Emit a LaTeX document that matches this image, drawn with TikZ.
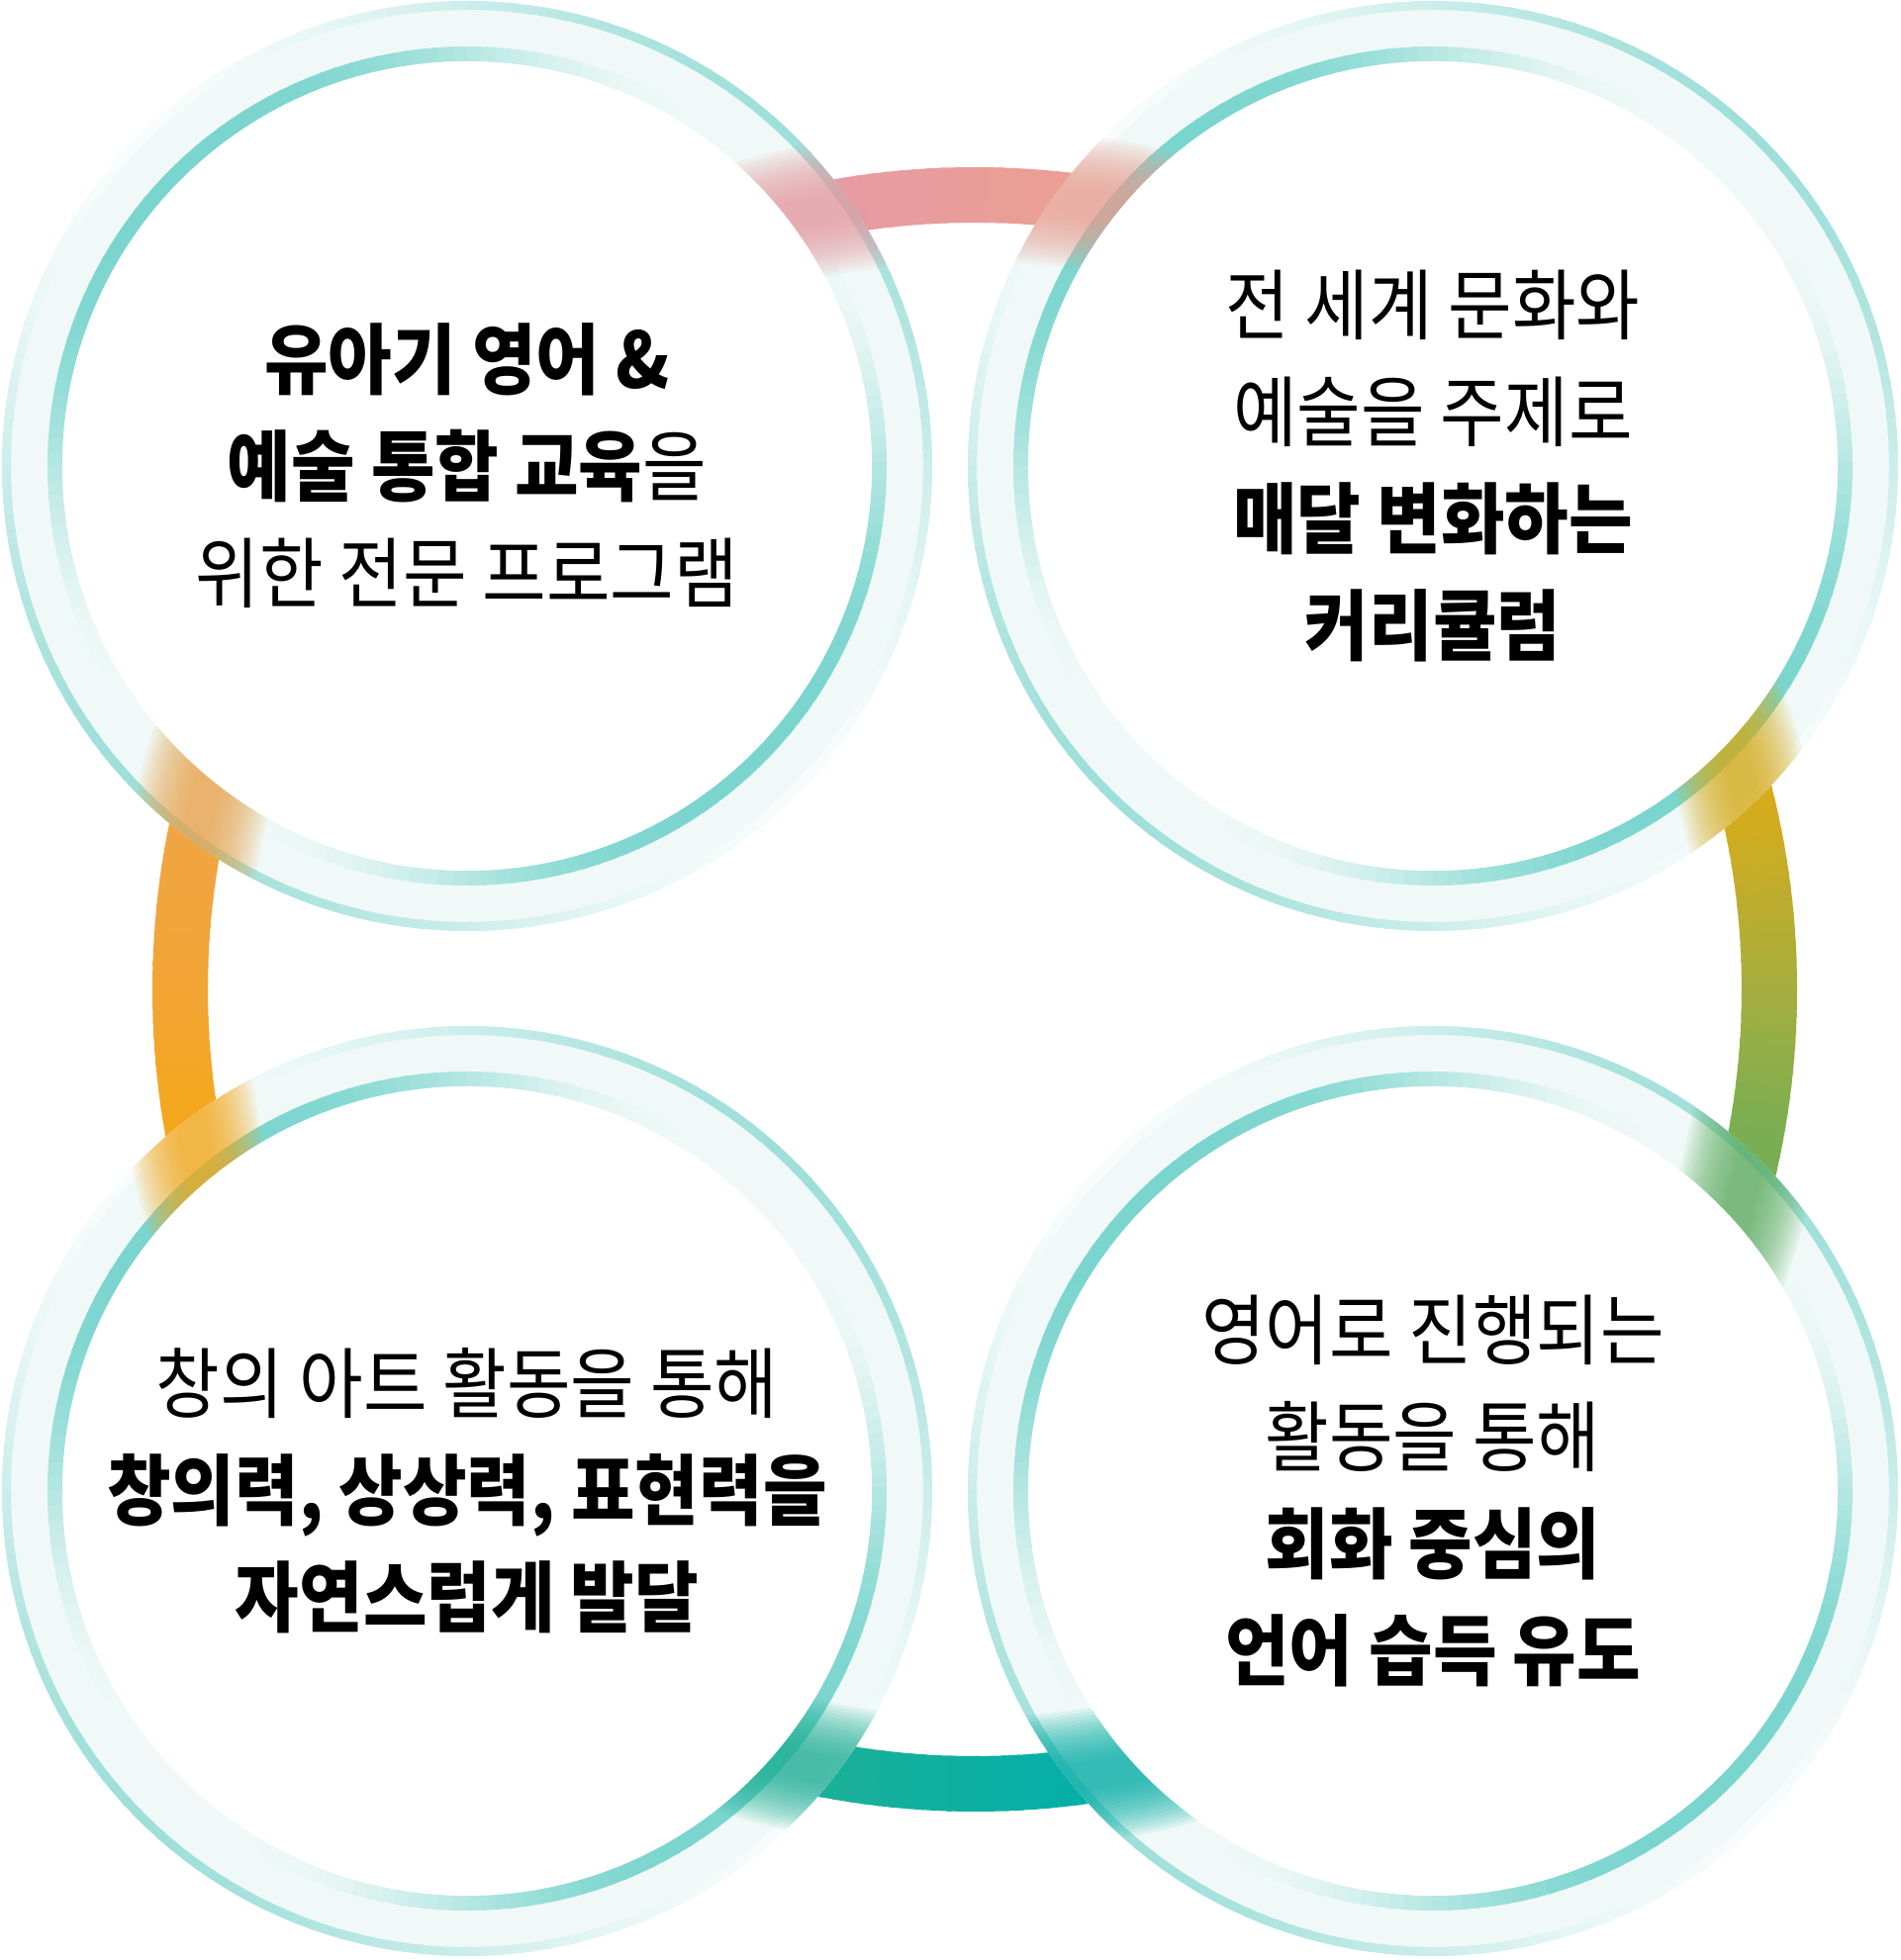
\documentclass[tikz,border=0pt]{standalone}
\usepackage{fontspec}
\newfontfamily\kr[FakeStretch=0.9]{Noto Sans CJK KR}
\definecolor{r0}{HTML}{A6AE3F}
\definecolor{r14}{HTML}{D9AC1A}
\definecolor{r50}{HTML}{E3A45A}
\definecolor{r83}{HTML}{EA9F92}
\definecolor{r100}{HTML}{E79BA3}
\definecolor{r130}{HTML}{E8A07C}
\definecolor{r167}{HTML}{EFA546}
\definecolor{r180}{HTML}{F2A534}
\definecolor{r192}{HTML}{F5A816}
\definecolor{r210}{HTML}{C9AC2C}
\definecolor{r230}{HTML}{72AE58}
\definecolor{r259}{HTML}{1BB098}
\definecolor{r278}{HTML}{03AFA9}
\definecolor{r310}{HTML}{2DAF8A}
\definecolor{r351}{HTML}{7EAE50}
\definecolor{bandmint}{HTML}{F0F9F7}
\definecolor{innerteal}{HTML}{7AD5CE}
\definecolor{outerteal}{HTML}{9FDFDA}
\tikzset{
  txt/.style={font=\kr\fontsize{78}{108}\selectfont, align=center, text=black, inner sep=0pt},
}
\newcommand\bubble[4]{%
  \coordinate (#1) at (#2,#3);
  \fill[bandmint] (#1) circle[radius=470];
  \foreach \b in {0,2,...,358} {
    \pgfmathsetmacro\ci{(1+cos(2*(\b+1-135)))/2}
    \pgfmathtruncatemacro\pin{round(100*\ci*\ci*(3-2*\ci))}
    \pgfmathtruncatemacro\pout{round(100*(0.08+0.92*(1-\ci)))}
    \draw[line width=9pt, draw=outerteal!\pout!white] (#1) ++(\b:465.5) arc[start angle=\b, delta angle=2.6, radius=465.5];
    \draw[line width=15pt, draw=innerteal!\pin!bandmint] (#1) ++(\b:416.5) arc[start angle=\b, delta angle=2.6, radius=416.5];
  }
  \begin{scope}
    \clip (#1) circle[radius=470];
    \foreach \s/\e/\c in {#4} {
      \foreach \w in {30,37,...,135} {
        \draw[line width=\w pt, draw=\c, opacity=0.09] (RC) ++(\s:803) arc[start angle=\s, end angle=\e, radius=803];
      }
    }
  \end{scope}
  \fill[white] (#1) circle[radius=409];
}
\begin{document}
\begin{tikzpicture}[x=1pt,y=1pt]
\useasboundingbox (0,0) rectangle (1920,1981);
\fill[white] (0,0) rectangle (1920,1981);
\coordinate (RC) at (985,981);
% big colour ring
\foreach \aS/\aE/\cS/\cE in {0/14/r0/r14, 14/50/r14/r50, 50/83/r50/r83, 83/100/r83/r100, 100/130/r100/r130, 130/167/r130/r167, 167/180/r167/r180, 180/192/r180/r192, 192/210/r192/r210, 210/230/r210/r230, 230/259/r230/r259, 259/278/r259/r278, 278/310/r278/r310, 310/351/r310/r351, 351/360/r351/r0} {
  \pgfmathtruncatemacro\n{\aE-\aS}
  \foreach \k in {1,...,\n} {
    \pgfmathsetmacro\a{\aS+\k-1}
    \pgfmathtruncatemacro\p{round(100*(\k-0.5)/\n)}
    \draw[line width=56pt, draw=\cE!\p!\cS] (RC) ++(\a:803) arc[start angle=\a, delta angle=1.4, radius=803];
  }
}
% circles
\definecolor{xa}{HTML}{E79BA3}\definecolor{xb}{HTML}{E9A54E}
\definecolor{xc}{HTML}{EA9F92}\definecolor{xd}{HTML}{D9AC1A}
\definecolor{xe}{HTML}{F4A81A}\definecolor{xf}{HTML}{1EB097}
\definecolor{xg}{HTML}{04AFA8}\definecolor{xh}{HTML}{5EAE62}
\bubble{TL}{472}{1510}{92/110/xa, 158/176/xb}
\bubble{TR}{1448}{1510}{7/25/xd, 73/91/xc}
\bubble{BL}{472}{474}{183/201/xe, 249/267/xf}
\bubble{BR}{1448}{474}{270/288/xg, 336/354/xh}
% texts
\node[txt] (t1) at (TL) {{\bfseries 유아기 영어 \&}\\{\bfseries 예술 통합 교육}을\\위한 전문 프로그램};
\node[txt] (t2) at (TR) {전 세계 문화와\\예술을 주제로\\{\bfseries 매달 변화하는}\\{\bfseries 커리큘럼}};
\node[txt] (t3) at (BL) {창의 아트 활동을 통해\\{\bfseries 창의력, 상상력, 표현력을}\\{\bfseries 자연스럽게 발달}};
\node[txt] (t4) at (BR) {영어로 진행되는\\활동을 통해\\{\bfseries 회화 중심의}\\{\bfseries 언어 습득 유도}};
\end{tikzpicture}
\end{document}
